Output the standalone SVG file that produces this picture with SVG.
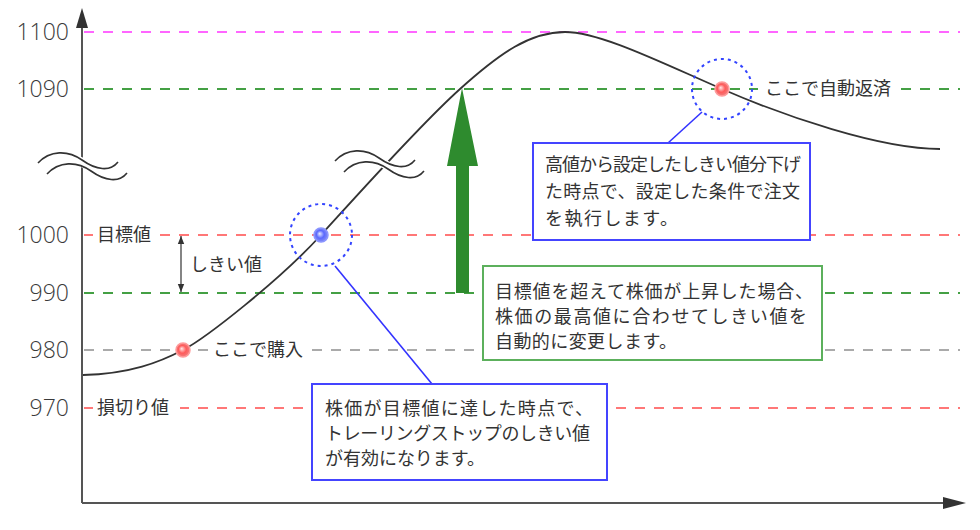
<svg xmlns="http://www.w3.org/2000/svg" width="980" height="530" viewBox="0 0 980 530">
<defs>
<style>
.t{font-family:"Noto Sans CJK JP","Liberation Sans",sans-serif;fill:#333;}
.ax{font-family:"Open Sans","Liberation Sans",sans-serif;font-weight:300;font-size:23px;fill:#3a3a3a;text-anchor:end;}
.lb{font-size:18px;}
.bx{font-size:18px;}
.dash{fill:none;stroke-width:2;stroke-dasharray:10 9;}
.wave{fill:none;stroke:#333;stroke-width:1.6;}
</style>
<radialGradient id="gr" cx="0.5" cy="0.5" r="0.5" fx="0.4" fy="0.4">
<stop offset="0" stop-color="#ffe8e8"/><stop offset="0.55" stop-color="#ff5a5a"/><stop offset="1" stop-color="#f08080"/>
</radialGradient>
<radialGradient id="gb" cx="0.5" cy="0.5" r="0.5" fx="0.4" fy="0.4">
<stop offset="0" stop-color="#e8ecff"/><stop offset="0.55" stop-color="#5a68ff"/><stop offset="1" stop-color="#8890f0"/>
</radialGradient>
<marker id="ah" viewBox="0 0 10 10" refX="10" refY="5" markerWidth="8" markerHeight="8" markerUnits="userSpaceOnUse" orient="auto-start-reverse">
<path d="M0,1 L10,5 L0,9 z" fill="#333"/>
</marker>
</defs>
<rect width="980" height="530" fill="#fff"/>

<g id="gridlines">
<line class="dash" x1="84" y1="32" x2="960" y2="32" stroke="#ff66ff"/>
<line class="dash" x1="84" y1="89" x2="960" y2="89" stroke="#44a044"/>
<line class="dash" x1="84" y1="235" x2="960" y2="235" stroke="#ff7777"/>
<line class="dash" x1="84" y1="293" x2="960" y2="293" stroke="#44a044"/>
<line class="dash" x1="84" y1="350" x2="960" y2="350" stroke="#aaaaaa"/>
<line class="dash" x1="84" y1="408" x2="960" y2="408" stroke="#ff7777"/>
</g>

<g id="axes">
<line x1="82" y1="24" x2="82" y2="503" stroke="#555" stroke-width="2"/>
<line x1="82" y1="503" x2="948" y2="503" stroke="#555" stroke-width="2"/>
<path d="M82,8 L76,28 L88,28 z" fill="#333"/>
<path d="M966,503 L943,497 L943,509 z" fill="#333"/>
<text class="ax" x="69" y="40">1100</text>
<text class="ax" x="69" y="97">1090</text>
<text class="ax" x="69" y="243">1000</text>
<text class="ax" x="69" y="301">990</text>
<text class="ax" x="69" y="358">980</text>
<text class="ax" x="69" y="416">970</text>
</g>

<g id="curve">
<path d="M83,375 C130,374 160,362 183,350 S280,280 321,235 S420,125 460,89 S530,32 565,32 S660,62 722,89 S880,149 940,149" fill="none" stroke="#333" stroke-width="1.8"/>
</g>

<g id="breaks">
<path d="M43,168 C55,155 73,155 86,165 C100,175 115,177 122,167" fill="none" stroke="#fff" stroke-width="9"/>
<path class="wave" d="M38,163 C50,150 68,150 82,160 C96,170 110,172 118,162"/>
<path class="wave" d="M47,174 C59,161 77,161 91,171 C105,181 119,183 127,173"/>
<g transform="translate(297,-2)">
<path d="M43,168 C55,155 73,155 86,165 C100,175 115,177 122,167" fill="none" stroke="#fff" stroke-width="9"/>
<path class="wave" d="M38,163 C50,150 68,150 82,160 C96,170 110,172 118,162"/>
<path class="wave" d="M47,174 C59,161 77,161 91,171 C105,181 119,183 127,173"/>
</g>
</g>

<g id="rise-arrow">
<path d="M462,88 L478,166 L469,166 L469,293 L456,293 L456,166 L447,166 z" fill="#2e8b2e"/>
</g>

<g id="line-labels">
<rect x="93" y="224" width="67" height="22" fill="#fff"/>
<text class="t lb" x="97" y="241">目標値</text>
<rect x="93" y="397" width="87" height="22" fill="#fff"/>
<text class="t lb" x="97" y="414">損切り値</text>
<rect x="208" y="339" width="104" height="22" fill="#fff"/>
<text class="t lb" x="213" y="356">ここで購入</text>
<rect x="758" y="78" width="140" height="22" fill="#fff"/>
<text class="t lb" x="765" y="95">ここで自動返済</text>
</g>

<g id="threshold">
<line x1="181" y1="236" x2="181" y2="292" stroke="#333" stroke-width="1.2" marker-start="url(#ah)" marker-end="url(#ah)"/>
<text class="t lb" x="190" y="271">しきい値</text>
</g>

<g id="buy-point">
<circle cx="183" cy="350" r="7" fill="url(#gr)" stroke="#ff9a9a" stroke-width="1.5"/>
</g>

<g id="target-point">
<circle cx="321" cy="235" r="31" fill="none" stroke="#3344ff" stroke-width="2" stroke-dasharray="3 4"/>
<circle cx="321" cy="235" r="7" fill="url(#gb)" stroke="#8a94ff" stroke-width="1.5"/>
</g>

<g id="exit-point">
<circle cx="722" cy="89" r="30" fill="none" stroke="#3344ff" stroke-width="2" stroke-dasharray="3 4"/>
<circle cx="722" cy="89" r="7" fill="url(#gr)" stroke="#ff9a9a" stroke-width="1.5"/>
</g>

<g id="connectors">
<line x1="335" y1="266" x2="432" y2="384" stroke="#3333ff" stroke-width="1.6"/>
<line x1="668" y1="143" x2="702" y2="112" stroke="#3333ff" stroke-width="1.6"/>
</g>

<g id="note-exit">
<rect x="533" y="143" width="277" height="97" fill="#fff" stroke="#4444ff" stroke-width="2"/>
<text class="t bx" x="545" y="171" textLength="256" lengthAdjust="spacing">高値から設定したしきい値分下げ</text>
<text class="t bx" x="545" y="198" textLength="255" lengthAdjust="spacing">た時点で、設定した条件で注文</text>
<text class="t bx" x="545" y="225" textLength="133" lengthAdjust="spacing">を執行します。</text>
</g>

<g id="note-raise">
<rect x="483" y="266" width="339" height="94" fill="#fff" stroke="#5cb05c" stroke-width="2"/>
<text class="t bx" x="495" y="298" textLength="318" lengthAdjust="spacing">目標値を超えて株価が上昇した場合、</text>
<text class="t bx" x="495" y="323" textLength="312" lengthAdjust="spacing">株価の最高値に合わせてしきい値を</text>
<text class="t bx" x="495" y="348" textLength="182" lengthAdjust="spacing">自動的に変更します。</text>
</g>

<g id="note-target">
<rect x="312" y="384" width="295" height="96" fill="#fff" stroke="#4444ff" stroke-width="2"/>
<text class="t bx" x="325" y="415" textLength="268" lengthAdjust="spacing">株価が目標値に達した時点で、</text>
<text class="t bx" x="325" y="440" textLength="265" lengthAdjust="spacing">トレーリングストップのしきい値</text>
<text class="t bx" x="325" y="465" textLength="160" lengthAdjust="spacing">が有効になります。</text>
</g>
</svg>
